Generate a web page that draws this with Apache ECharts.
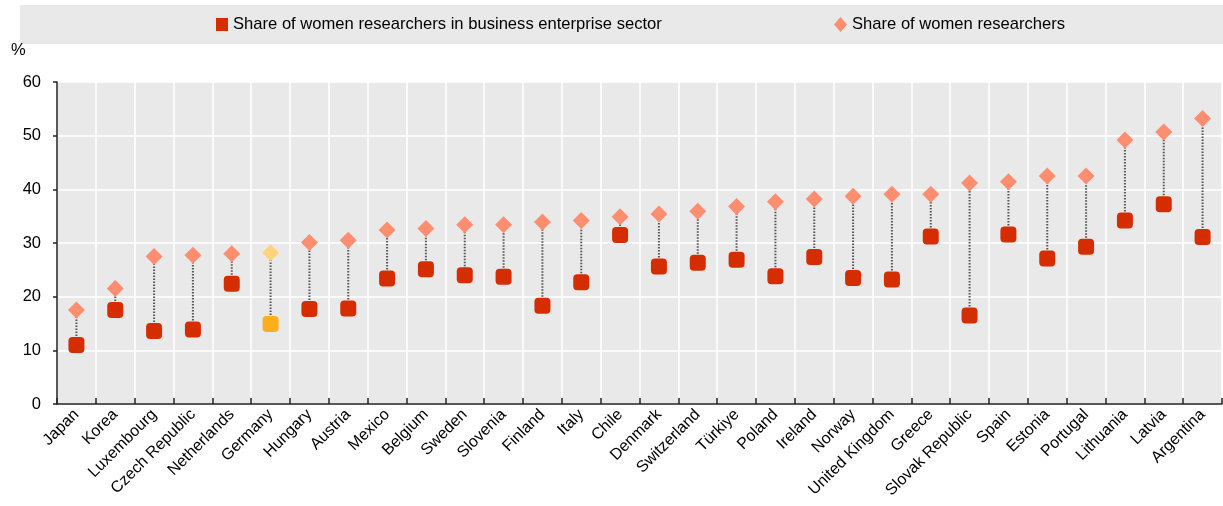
<!DOCTYPE html>
<html>
<head>
<meta charset="utf-8">
<script src="https://cdn.jsdelivr.net/npm/echarts@6/dist/echarts.min.js"></script>
<style>
html,body{margin:0;padding:0;background:#fff;}
#chart{width:1223px;height:506px;}
</style>
</head>
<body>
<div id="chart"></div>
<script>
const categories = ['Japan','Korea','Luxembourg','Czech Republic','Netherlands','Germany','Hungary','Austria','Mexico','Belgium','Sweden','Slovenia','Finland','Italy','Chile','Denmark','Switzerland','Türkiye','Poland','Ireland','Norway','United Kingdom','Greece','Slovak Republic','Spain','Estonia','Portugal','Lithuania','Latvia','Argentina'];
const businessShare = [11.0,17.5,13.6,13.9,22.4,14.9,17.7,17.8,23.4,25.1,24.0,23.7,18.3,22.7,31.5,25.6,26.3,26.9,23.8,27.4,23.5,23.2,31.2,16.5,31.6,27.1,29.3,34.2,37.2,31.1];
const totalShare = [17.5,21.5,27.5,27.7,28.0,28.2,30.1,30.5,32.4,32.7,33.4,33.4,33.9,34.2,34.9,35.4,35.9,36.8,37.7,38.2,38.7,39.1,39.1,41.2,41.4,42.5,42.5,49.2,50.7,53.2];
const yTicks = [0,10,20,30,40,50,60];
const highlighted = 'Germany';

const FONT = "'Liberation Sans', Arial, sans-serif";
const RED = '#D62D00', SALMON = '#FE8E6F', HI_SQ = '#FBAF1C', HI_DIA = '#FFD37E';

const chart = echarts.init(document.getElementById('chart'), null, {renderer:'canvas'});
const option = {
  animation: false,
  backgroundColor: '#fff',
  textStyle: {fontFamily: FONT, color: '#000'},
  graphic: [
    {type:'rect', left:20, top:5, shape:{width:1203, height:39}, style:{fill:'#E9E9E9'}, z:-1},
    {type:'text', left:11, top:42, style:{text:'%', font:'16.5px ' + FONT, fill:'#000'}}
  ],
  legend: [
    {data:[{name:'Share of women researchers in business enterprise sector', icon:'rect'}], left:216, top:16,
     itemWidth:12, itemHeight:13, itemGap:5, textStyle:{fontFamily:FONT, fontSize:16.6, color:'#000'}, padding:0},
    {data:[{name:'Share of women researchers', icon:'diamond'}], left:834, top:16,
     itemWidth:13, itemHeight:15, textStyle:{fontFamily:FONT, fontSize:16.6, color:'#000'}, padding:0}
  ],
  grid: {left:57, right:1, top:82, bottom:102, show:true, backgroundColor:'#E9E9E9', borderWidth:0},
  xAxis: {
    type:'category', data: categories, boundaryGap:true,
    axisLine:{show:true, lineStyle:{color:'#222', width:1.5}},
    axisTick:{show:true, inside:true, length:6, alignWithLabel:false, lineStyle:{color:'#222', width:1.5}},
    splitLine:{show:true, interval:0, lineStyle:{color:'#fff', width:1.5}},
    axisLabel:{interval:0, rotate:45, fontFamily:FONT, fontSize:16, color:'#000', margin:8}
  },
  yAxis: {
    type:'value', min:0, max:60, interval:10,
    axisLine:{show:true, lineStyle:{color:'#222', width:1.5}},
    axisTick:{show:true, inside:false, length:4, lineStyle:{color:'#222', width:1.5}},
    splitLine:{show:true, lineStyle:{color:'#fff', width:1.5}},
    axisLabel:{fontFamily:FONT, fontSize:16.5, color:'#000', margin:16,
      formatter: v => yTicks.includes(v) ? String(v) : ''}
  },
  series: [
    {
      type:'custom', name:'connector', silent:true, z:1,
      data: categories.map((c,i)=>[i, businessShare[i], totalShare[i]]),
      encode:{x:0, y:[1,2]},
      renderItem: (params, api) => {
        const x = api.value(0);
        const p1 = api.coord([x, api.value(1)]);
        const p2 = api.coord([x, api.value(2)]);
        return {type:'line', shape:{x1:p1[0], y1:p1[1], x2:p2[0], y2:p2[1]},
          style:{stroke:'#555', lineWidth:2, lineDash:[1.5,1.5]}};
      }
    },
    {
      type:'scatter', name:'Share of women researchers in business enterprise sector', z:3,
      symbol:'roundRect', symbolSize:16,
      itemStyle:{color:RED, opacity:1},
      data: businessShare.map((v,i)=> categories[i]===highlighted ? {value:v, itemStyle:{color:HI_SQ}} : v)
    },
    {
      type:'scatter', name:'Share of women researchers', z:3,
      symbol:'diamond', symbolSize:[17,17],
      itemStyle:{color:SALMON, opacity:1},
      data: totalShare.map((v,i)=> categories[i]===highlighted ? {value:v, itemStyle:{color:HI_DIA}} : v)
    }
  ]
};
chart.setOption(option);
</script>
</body>
</html>
